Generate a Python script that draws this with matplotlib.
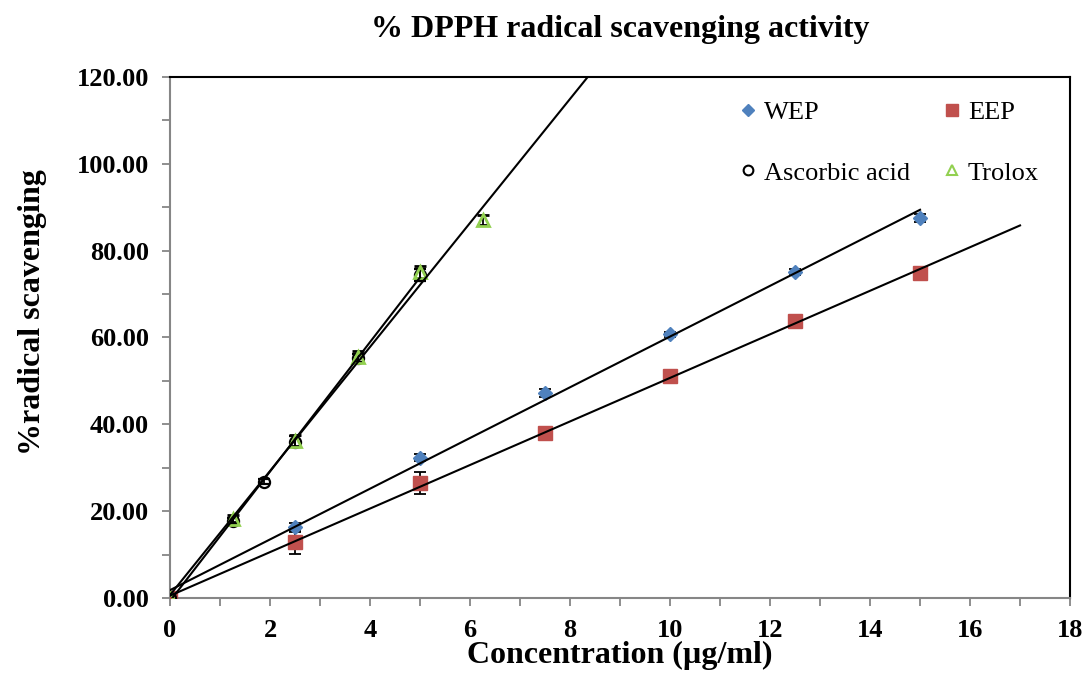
import numpy as np
import matplotlib.pyplot as plt
from matplotlib.ticker import MultipleLocator, FormatStrFormatter

plt.rcParams['font.family'] = ['Liberation Serif', 'DejaVu Serif']

# concentration (ug/ml) and % scavenging, mean and SD
wep_x = [0, 2.5, 5, 7.5, 10, 12.5, 15]
wep_y = [0, 16.3, 32.3, 47.3, 60.7, 75.1, 87.6]
wep_sd = [0.3, 1.0, 0.8, 0.9, 0.6, 0.6, 0.9]

eep_x = [0, 2.5, 5, 7.5, 10, 12.5, 15]
eep_y = [0, 12.8, 26.5, 38.0, 51.2, 63.8, 74.8]
eep_sd = [0.4, 2.6, 2.5, 1.4, 0.6, 0.4, 0.5]

asc_x = [0, 1.25, 1.875, 2.5, 3.75, 5]
asc_y = [0, 17.8, 26.8, 36.0, 55.3, 74.3]
asc_sd = [0.3, 0.7, 0.5, 1.2, 0.9, 1.4]

trx_x = [0, 1.25, 2.5, 3.75, 5, 6.25]
trx_y = [0, 18.2, 36.2, 55.6, 75.0, 87.0]
trx_sd = [0.3, 0.8, 1.3, 1.3, 1.4, 1.2]

blue = '#4F81BD'
red = '#C0504D'
green = '#92D050'

fig = plt.figure(figsize=(10.88, 6.91), dpi=100)
ax = fig.add_axes([0.1563, 0.1346, 0.8272, 0.7540])

err_kw = dict(ecolor='black', elinewidth=1.3, capsize=4, capthick=1.3, linestyle='none', zorder=3)
ax.errorbar(wep_x, wep_y, yerr=wep_sd, marker='D', ms=7, mfc=blue, mec=blue, **err_kw)
ax.errorbar(eep_x, eep_y, yerr=eep_sd, marker='s', ms=10, mfc=red, mec=red, **err_kw)
ax.errorbar(asc_x, asc_y, yerr=asc_sd, marker='o', ms=8, mfc='none', mec='black', mew=1.6, **err_kw)
ax.errorbar(trx_x, trx_y, yerr=trx_sd, marker='^', ms=9, mfc='none', mec=green, mew=2, **err_kw)


# linear trendlines, with a forward forecast on EEP and Trolox
def trend(x, y, forward=0.0):
    k, b = np.polyfit(x, y, 1)
    xs = np.array([0, max(x) + forward])
    ax.plot(xs, k * xs + b, color='black', lw=1.5, zorder=4)


trend(wep_x, wep_y)
trend(eep_x, eep_y, forward=2)
trend(asc_x, asc_y)
trend(trx_x, trx_y, forward=2.1)

ax.set_xlim(0, 18)
ax.set_ylim(0, 120)
ax.xaxis.set_major_locator(MultipleLocator(2))
ax.xaxis.set_minor_locator(MultipleLocator(1))
ax.yaxis.set_major_locator(MultipleLocator(20))
ax.yaxis.set_minor_locator(MultipleLocator(10))
ax.yaxis.set_major_formatter(FormatStrFormatter('%.2f'))

for side in ('left', 'bottom'):
    ax.spines[side].set_color('#868686')
    ax.spines[side].set_linewidth(1.5)
for side in ('top', 'right'):
    ax.spines[side].set_color('black')
    ax.spines[side].set_linewidth(1.5)

ax.tick_params(which='both', direction='out', length=6, width=1.3, color='#868686')
ax.tick_params(axis='y', which='major', labelsize=19, pad=9)
ax.tick_params(axis='x', which='major', labelsize=19, pad=9)
for lbl in ax.get_xticklabels() + ax.get_yticklabels():
    lbl.set_fontweight('bold')

fig.text(0.570, 0.957, '% DPPH radical scavenging activity', fontsize=23, fontweight='bold',
         ha='center', va='center')
ax.set_xlabel('Concentration (µg/ml)', fontsize=23, fontweight='bold')
ax.xaxis.set_label_coords(0.5, -0.11)
ax.xaxis.label.set_va('center')
ax.set_ylabel('%radical scavenging', fontsize=23, fontweight='bold')
ax.yaxis.set_label_coords(-0.153, 0.549)
ax.yaxis.label.set_va('center')

# ncol fills column by column: WEP/Ascorbic acid on the left, EEP/Trolox on the right
handles = [plt.Line2D([], [], ls='none', marker='D', ms=6, mfc=blue, mec=blue),
           plt.Line2D([], [], ls='none', marker='o', ms=7, mfc='none', mec='black', mew=1.5),
           plt.Line2D([], [], ls='none', marker='s', ms=8, mfc=red, mec=red),
           plt.Line2D([], [], ls='none', marker='^', ms=7, mfc='none', mec=green, mew=1.5)]
ax.legend(handles, ['WEP', 'Ascorbic acid', 'EEP', 'Trolox'], ncol=2, frameon=False,
          loc='upper left', bbox_to_anchor=(0.607, 1.0), fontsize=19,
          handlelength=0.6, handletextpad=0.3, labelspacing=1.4, columnspacing=1.3)

fig.savefig('out.png', dpi=100)
